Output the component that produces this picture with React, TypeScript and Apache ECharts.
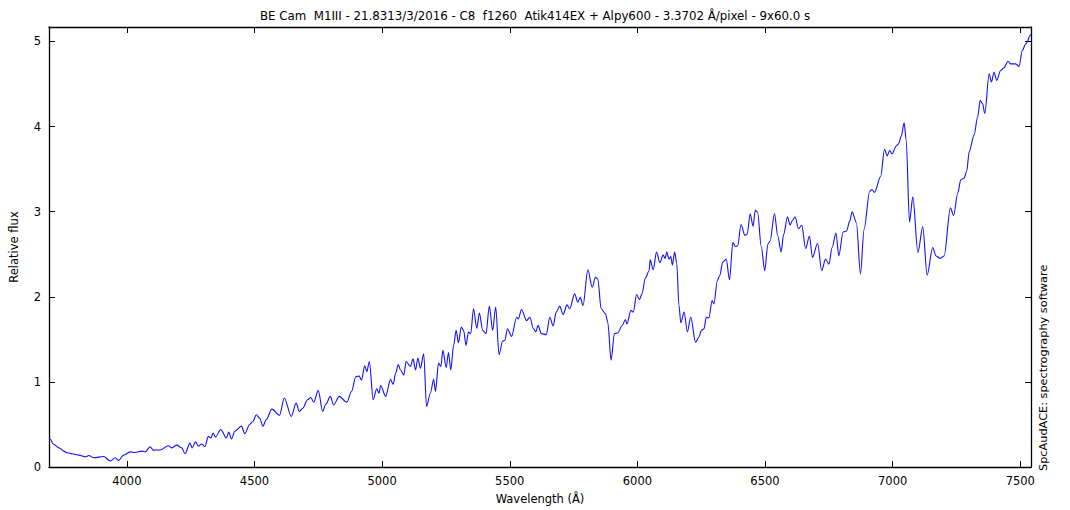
import React, { useEffect, useRef } from "react";
import * as echarts from "echarts";

const TITLE = "BE Cam  M1III - 21.8313/3/2016 - C8  f1260  Atik414EX + Alpy600 - 3.3702 Å/pixel - 9x60.0 s";
const X_NAME = "Wavelength (Å)";
const Y_NAME = "Relative flux";
const SIDE_NOTE = "SpcAudACE: spectrography software";

const X_MIN = 3695;
const X_MAX = 7542;
const Y_MIN = 0;
const Y_MAX = 5.17;
const X_TICKS = [4000, 4500, 5000, 5500, 6000, 6500, 7000, 7500];
const Y_TICKS = [0, 1, 2, 3, 4, 5];

const wavelength = [
  3696, 3702, 3711, 3734, 3753, 3767, 3786, 3812, 3838, 3851, 3870, 3909, 3935, 3955, 3968, 3987,
  4013, 4033, 4059, 4072, 4091, 4104, 4130, 4163, 4176, 4195, 4215, 4228, 4247, 4256, 4269, 4280,
  4293, 4306, 4319, 4329, 4338, 4347, 4368, 4390, 4399, 4410, 4423, 4449, 4462, 4481, 4494, 4507,
  4520, 4533, 4546, 4568, 4598, 4617, 4644, 4663, 4676, 4689, 4708, 4721, 4732, 4750, 4767, 4780,
  4797, 4810, 4832, 4862, 4880, 4897, 4910, 4919, 4932, 4940, 4950, 4965, 4979, 4988, 4994, 5014,
  5033, 5043, 5053, 5063, 5072, 5085, 5094, 5111, 5121, 5131, 5140, 5150, 5163, 5174, 5189, 5202,
  5209, 5221, 5230, 5238, 5251, 5260, 5269, 5280, 5290, 5299, 5310, 5319, 5329, 5338, 5347, 5358,
  5371, 5381, 5394, 5407, 5420, 5433, 5445, 5458, 5472, 5481, 5491, 5507, 5527, 5534, 5546, 5566,
  5579, 5592, 5602, 5611, 5624, 5643, 5657, 5670, 5682, 5696, 5709, 5724, 5735, 5754, 5767, 5776,
  5787, 5806, 5823, 5836, 5845, 5858, 5875, 5884, 5897, 5910, 5923, 5940, 5953, 5959, 5975, 5984,
  5997, 6008, 6018, 6031, 6046, 6050, 6062, 6075, 6088, 6101, 6109, 6115, 6124, 6131, 6137, 6146,
  6154, 6163, 6170, 6183, 6196, 6209, 6228, 6241, 6251, 6261, 6270, 6280, 6293, 6300, 6313, 6322,
  6335, 6348, 6361, 6374, 6384, 6393, 6406, 6421, 6430, 6442, 6453, 6462, 6471, 6485, 6499, 6511,
  6520, 6537, 6550, 6563, 6573, 6588, 6598, 6608, 6618, 6631, 6644, 6659, 6674, 6686, 6706, 6722,
  6737, 6750, 6763, 6778, 6789, 6806, 6819, 6832, 6841, 6858, 6874, 6888, 6910, 6919, 6929, 6953,
  6968, 6979, 6988, 6998, 7014, 7023, 7034, 7045, 7053, 7066, 7079, 7099, 7118, 7135, 7157, 7170,
  7187, 7202, 7226, 7239, 7255, 7267, 7280, 7290, 7300, 7319, 7333, 7343, 7352, 7361, 7378, 7387,
  7397, 7408, 7423, 7436, 7452, 7462, 7482, 7495, 7508, 7521, 7527, 7537, 7542,
];

const flux = [
  0.33, 0.32, 0.27, 0.225, 0.187, 0.167, 0.155, 0.14, 0.12, 0.135, 0.108, 0.124, 0.07, 0.108, 0.077, 0.14,
  0.178, 0.17, 0.187, 0.178, 0.237, 0.198, 0.2, 0.25, 0.225, 0.257, 0.225, 0.155, 0.28, 0.225, 0.295, 0.245,
  0.27, 0.24, 0.36, 0.34, 0.4, 0.35, 0.44, 0.34, 0.41, 0.33, 0.42, 0.48, 0.39, 0.5, 0.537, 0.614,
  0.575, 0.48, 0.555, 0.68, 0.607, 0.81, 0.595, 0.75, 0.653, 0.69, 0.79, 0.817, 0.76, 0.9, 0.653, 0.74,
  0.83, 0.73, 0.83, 0.76, 0.887, 1.06, 1.07, 1.02, 1.19, 1.12, 1.24, 0.79, 0.92, 0.867, 0.957, 0.83,
  1.03, 0.97, 1.1, 1.205, 1.14, 1.08, 1.24, 1.18, 1.27, 1.14, 1.28, 1.16, 1.33, 0.71, 0.867, 1.03,
  0.887, 1.22, 1.18, 1.37, 1.17, 1.345, 1.14, 1.43, 1.605, 1.46, 1.645, 1.605, 1.43, 1.587, 1.567, 1.86,
  1.63, 1.81, 1.605, 1.567, 1.89, 1.605, 1.88, 1.32, 1.477, 1.49, 1.625, 1.535, 1.76, 1.74, 1.85, 1.72,
  1.76, 1.63, 1.587, 1.664, 1.567, 1.555, 1.76, 1.657, 1.82, 1.89, 1.79, 1.905, 1.86, 2.034, 1.937, 1.995,
  1.897, 2.317, 2.112, 2.229, 2.209, 1.859, 1.8, 1.7, 1.256, 1.567, 1.575, 1.66, 1.734, 1.68, 1.84, 1.82,
  2.026, 1.967, 2.034, 2.217, 2.306, 2.434, 2.317, 2.527, 2.4, 2.489, 2.45, 2.527, 2.442, 2.474, 2.372, 2.527,
  2.4, 1.897, 1.695, 1.82, 1.587, 1.762, 1.462, 1.528, 1.606, 1.625, 1.762, 1.75, 1.956, 1.917, 2.189, 2.247,
  2.41, 2.442, 2.2, 2.637, 2.59, 2.597, 2.85, 2.722, 2.734, 2.975, 2.83, 3.017, 2.994, 2.597, 2.306, 2.617,
  2.656, 2.979, 2.714, 2.527, 2.734, 2.94, 2.843, 2.9, 2.94, 2.8, 2.839, 2.567, 2.714, 2.462, 2.629, 2.306,
  2.442, 2.384, 2.579, 2.75, 2.48, 2.761, 2.773, 2.889, 3.0, 2.87, 2.267, 2.792, 3.24, 3.26, 3.227, 3.414,
  3.734, 3.656, 3.718, 3.679, 3.772, 3.796, 3.889, 4.045, 3.842, 2.877, 3.174, 2.52, 2.824, 2.255, 2.579, 2.48,
  2.45, 2.48, 3.045, 2.956, 3.22, 3.376, 3.395, 3.472, 3.706, 3.9, 4.114, 4.309, 4.271, 4.154, 4.621, 4.523,
  4.639, 4.543, 4.659, 4.69, 4.768, 4.737, 4.737, 4.706, 4.893, 4.97, 4.99, 5.068, 5.08,
];

const FONT = "DejaVu Sans";
const FS = 11.5;

export default function App() {
  const ref = useRef<HTMLDivElement>(null);

  useEffect(() => {
    if (!ref.current) return;
    const chart = echarts.init(ref.current, undefined, { renderer: "svg" });
    const data = wavelength.map((w, i) => [w, flux[i]]);
    const xLabel = (v: number) => (X_TICKS.includes(Math.round(v)) && Math.abs(v - Math.round(v)) < 1e-6 ? String(Math.round(v)) : "");
    const yLabel = (v: number) => (Y_TICKS.includes(v) ? String(v) : "");
    const tick = { show: true, inside: true, length: 6, lineStyle: { color: "#000", width: 1 } };
    const line = { show: true, onZero: false, lineStyle: { color: "#000", width: 1.3 } };
    const xBase = {
      type: "value",
      min: X_MIN,
      max: X_MAX,
      splitNumber: 8,
      minInterval: 500,
      maxInterval: 500,
      axisLine: line,
      axisTick: tick,
      splitLine: { show: false },
    };

    chart.setOption({
      animation: false,
      backgroundColor: "#fff",
      textStyle: { fontFamily: FONT },
      title: {
        text: TITLE,
        left: "center",
        top: 5,
        textStyle: { fontFamily: FONT, fontSize: 11.8, fontWeight: "normal", color: "#000" },
      },
      grid: { left: 43, right: 39, top: 27, bottom: 41, containLabel: false },
      xAxis: [
        {
          ...xBase,
          name: X_NAME,
          nameLocation: "middle",
          nameGap: 26,
          nameTextStyle: { fontFamily: FONT, fontSize: FS, color: "#000" },
          axisLabel: { formatter: xLabel, fontFamily: FONT, fontSize: FS, color: "#000", margin: 8 },
        },
        {
          ...xBase,
          position: "top",
          axisLabel: { show: false },
        },
      ],
      yAxis: [
        {
          type: "value",
          min: Y_MIN,
          max: Y_MAX,
          interval: 1,
          name: Y_NAME,
          nameLocation: "middle",
          nameGap: 29,
          nameTextStyle: { fontFamily: FONT, fontSize: FS, color: "#000" },
          axisLine: line,
          axisTick: tick,
          axisLabel: { formatter: yLabel, fontFamily: FONT, fontSize: FS, color: "#000", margin: 8 },
          splitLine: { show: false },
        },
        {
          type: "value",
          position: "right",
          min: Y_MIN,
          max: Y_MAX,
          interval: 1,
          axisLine: line,
          axisTick: tick,
          axisLabel: { show: false },
          splitLine: { show: false },
        },
      ],
      graphic: [
        {
          type: "text",
          x: 1043,
          y: 471,
          rotation: Math.PI / 2,
          style: {
            text: SIDE_NOTE,
            fontFamily: FONT,
            fontSize: 11.3,
            fill: "#000",
            align: "left",
            verticalAlign: "middle",
          },
        },
      ],
      series: [
        {
          type: "line",
          data,
          showSymbol: false,
          smooth: 0.3,
          smoothMonotone: "x",
          lineStyle: { color: "#1010ff", width: 1.1 },
          clip: true,
        },
      ],
    });
    return () => chart.dispose();
  }, []);

  return (
    <div
      ref={ref}
      style={{ position: "fixed", left: 0, top: 0, width: 1070, height: 510, background: "#fff" }}
    />
  );
}
